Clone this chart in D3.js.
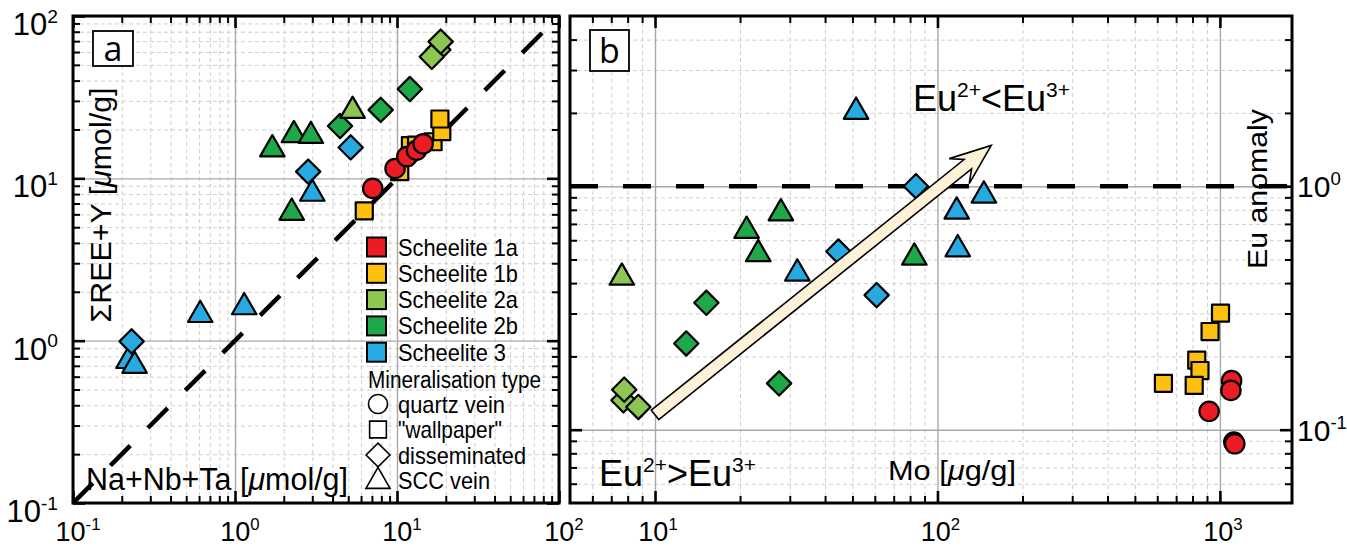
<!DOCTYPE html>
<html>
<head>
<meta charset="utf-8">
<script src="https://cdn.jsdelivr.net/npm/d3@7"></script>
<style>
  body { margin: 0; background: #fff; }
  svg { display: block; font-family: "Liberation Sans", Arial, sans-serif; }
</style>
</head>
<body>
<svg id="svg" width="1347" height="546"></svg>
<script>
// legend groups
var groups = ["1a", "1b", "2a", "2b", "3"];
var groupNames = ["Scheelite 1a", "Scheelite 1b", "Scheelite 2a", "Scheelite 2b", "Scheelite 3"];
var groupColors = ["#ed1c24", "#fdc00f", "#8dc751", "#1fa84a", "#27aae1"];
var mineralTypes = ["qv", "wp", "ds", "scc"];
var mineralNames = ["quartz vein", "\"wallpaper\"", "disseminated", "SCC vein"];

// panel a : Na+Nb+Ta vs REE+Y (umol/g)
var aGroup = ["3","3","3","3","3","3","3","3",
              "2b","2b","2b","2b","2b","2b","2b",
              "2a","2a","2a","2a",
              "1b","1b","1b","1b","1b","1b","1b",
              "1a","1a","1a","1a","1a"];
var aType  = ["scc","scc","ds","scc","scc","ds","scc","ds",
              "scc","scc","scc","ds","ds","ds","scc",
              "scc","ds","ds","ds",
              "wp","wp","wp","wp","wp","wp","wp",
              "qv","qv","qv","qv","qv"];
var aNaNbTa = [0.22, 0.24, 0.23, 0.61, 1.14, 2.83, 3.0, 5.18,
               1.70, 2.31, 2.94, 4.45, 7.93, 12.0, 2.24,
               5.32, 18.0, 16.4, 18.6,
               6.28, 10.4, 12.1, 13.2, 16.7, 18.9, 18.4,
               7.08, 9.73, 11.5, 13.2, 14.5];
var aREEY = [0.76, 0.71, 0.99, 1.46, 1.63, 11.0, 8.15, 15.5,
             15.3, 18.7, 18.5, 21.0, 26.4, 35.5, 6.22,
             26.4, 62, 56.1, 69.5,
             6.31, 11.0, 15.9, 16.0, 16.8, 19.4, 23.2,
             8.67, 11.5, 13.6, 14.9, 16.3];

// panel b : Mo (ug/g) vs Eu anomaly
var bGroup = ["2a","2a","2a","2a",
              "2b","2b","2b","2b","2b","2b","2b",
              "3","3","3","3","3","3","3","3",
              "1b","1b","1b","1b","1b","1b",
              "1a","1a","1a","1a","1a"];
var bType = ["scc","ds","ds","ds",
             "ds","ds","ds","scc","scc","scc","scc",
             "scc","ds","scc","scc","scc","ds","scc","ds",
             "wp","wp","wp","wp","wp","wp",
             "qv","qv","qv","qv","qv"];
var bMo = [7.63, 7.73, 7.78, 8.73,
           15.2, 12.9, 27.5, 21.1, 23.2, 27.9, 82.8,
           51.5, 83.9, 146, 117, 118, 44.6, 31.9, 60.9,
           1005, 923, 828, 850, 811, 631,
           1100, 1094, 916, 1120, 1129];
var bEu = [0.425, 0.132, 0.146, 0.124,
           0.332, 0.226, 0.155, 0.662, 0.531, 0.781, 0.514,
           2.04, 1.0, 0.924, 0.794, 0.556, 0.539, 0.442, 0.357,
           0.301, 0.253, 0.193, 0.175, 0.152, 0.155,
           0.159, 0.145, 0.119, 0.089, 0.0875];

var arrowFrom = [10, 0.115];
var arrowTo = [155, 1.47];

var svg = d3.select("#svg");
svg.append("rect").attr("width", 1347).attr("height", 546).attr("fill", "#fff");

var xa = d3.scaleLog().domain([0.1, 100]).range([73, 559]);
var ya = d3.scaleLog().domain([0.1, 100]).range([503, 16]);
var xb = d3.scaleLog().domain([5, 1800]).range([570, 1292]);
var yb = d3.scaleLog().domain([0.05, 5]).range([503, 16]);

function majors(d) {
    var out = [];
    for (var e = Math.ceil(Math.log10(d[0]) - 1e-9); e <= Math.floor(Math.log10(d[1]) + 1e-9); e++) out.push(Math.pow(10, e));
    return out;
}
function minors(d) {
    var out = [];
    for (var e = Math.floor(Math.log10(d[0])); e <= Math.ceil(Math.log10(d[1])); e++)
        for (var m = 2; m <= 9; m++) {
            var v = m * Math.pow(10, e);
            if (v > d[0] * 1.0001 && v < d[1] * 0.9999) out.push(v);
        }
    return out;
}

// custom marker shapes
var diamondType = { draw: function(ctx, size) {
    var r = Math.sqrt(size) * 0.72;
    ctx.moveTo(0, -r); ctx.lineTo(r, 0); ctx.lineTo(0, r); ctx.lineTo(-r, 0); ctx.closePath();
}};
var triangleType = { draw: function(ctx, size) {
    var s = Math.sqrt(size);
    ctx.moveTo(0, -s * 0.78); ctx.lineTo(s * 0.72, s * 0.47); ctx.lineTo(-s * 0.72, s * 0.47); ctx.closePath();
}};
var shapeOf = { qv: d3.symbolCircle, wp: d3.symbolSquare, ds: diamondType, scc: triangleType };
var sizeOf = { qv: 295, wp: 290, ds: 285, scc: 290 };
var colorOf = d3.scaleOrdinal().domain(groups).range(groupColors);

function panel(x, y) {
    var xd = x.domain(), yd = y.domain();
    var l = x.range()[0], r = x.range()[1], t = y.range()[1], b = y.range()[0];
    var g = svg.append("g");

    // grid
    var grid = g.append("g");
    grid.append("g").attr("transform", "translate(0," + t + ")")
        .call(d3.axisBottom(x).tickValues(minors(xd)).tickSize(b - t).tickFormat(""));
    grid.append("g").attr("transform", "translate(" + l + ",0)")
        .call(d3.axisRight(y).tickValues(minors(yd)).tickSize(r - l).tickFormat(""));
    grid.selectAll("line").attr("stroke", "#cfcfcf").attr("stroke-width", 1).attr("stroke-dasharray", "4,3");
    var gridM = g.append("g");
    gridM.append("g").attr("transform", "translate(0," + t + ")")
        .call(d3.axisBottom(x).tickValues(majors(xd)).tickSize(b - t).tickFormat(""));
    gridM.append("g").attr("transform", "translate(" + l + ",0)")
        .call(d3.axisRight(y).tickValues(majors(yd)).tickSize(r - l).tickFormat(""));
    gridM.selectAll("line").attr("stroke", "#a8a8a8").attr("stroke-width", 1.4);
    g.selectAll(".domain").remove();
    return g;
}

function frame(x, y) {
    var xd = x.domain(), yd = y.domain();
    var l = x.range()[0], r = x.range()[1], t = y.range()[1], b = y.range()[0];
    var g = svg.append("g");
    [[minors, 7, 2], [majors, 12, 2.6]].forEach(function(k) {
        var tx = k[0](xd), ty = k[0](yd);
        var sets = [
            g.append("g").attr("transform", "translate(0," + t + ")").call(d3.axisBottom(x).tickValues(tx).tickSize(k[1]).tickFormat("")),
            g.append("g").attr("transform", "translate(0," + b + ")").call(d3.axisTop(x).tickValues(tx).tickSize(k[1]).tickFormat("")),
            g.append("g").attr("transform", "translate(" + l + ",0)").call(d3.axisRight(y).tickValues(ty).tickSize(k[1]).tickFormat("")),
            g.append("g").attr("transform", "translate(" + r + ",0)").call(d3.axisLeft(y).tickValues(ty).tickSize(k[1]).tickFormat(""))
        ];
        sets.forEach(function(s) {
            s.select(".domain").remove();
            s.selectAll("line").attr("stroke", "#000").attr("stroke-width", k[2]);
        });
    });
    g.append("rect").attr("x", l).attr("y", t).attr("width", r - l).attr("height", b - t)
        .attr("fill", "none").attr("stroke", "#000").attr("stroke-width", 3);
}

function drawPoints(x, y, xs, ys, grp, typ) {
    svg.append("g").selectAll("path").data(xs).enter().append("path")
        .attr("transform", function(d, i) { return "translate(" + x(xs[i]) + "," + y(ys[i]) + ")"; })
        .attr("d", function(d, i) { return d3.symbol().type(shapeOf[typ[i]]).size(sizeOf[typ[i]])(); })
        .attr("fill", function(d, i) { return colorOf(grp[i]); })
        .attr("stroke", "#000").attr("stroke-width", 2.2).attr("stroke-linejoin", "round");
}

function pow10(x, y, e, anchor, fs) {
    var t = svg.append("text").attr("x", x).attr("y", y).attr("text-anchor", anchor)
        .attr("font-size", fs).attr("fill", "#000");
    t.append("tspan").text("10");
    t.append("tspan").attr("dy", -fs * 0.4).attr("font-size", fs * 0.62).text(e);
}

function euLabel(x, y, op) {
    var t = svg.append("text").attr("x", x).attr("y", y).attr("font-size", 36).attr("fill", "#000");
    t.append("tspan").text("Eu");
    t.append("tspan").attr("dy", -14).attr("font-size", 21).text("2+");
    t.append("tspan").attr("dy", 14).text(op + "Eu");
    t.append("tspan").attr("dy", -14).attr("font-size", 21).text("3+");
}

function labelBox(x, y, w, h, s) {
    svg.append("rect").attr("x", x).attr("y", y).attr("width", w).attr("height", h)
        .attr("fill", "#fff").attr("stroke", "#000").attr("stroke-width", 1.8);
    svg.append("text").attr("x", x + w / 2).attr("y", y + h / 2 + 12).attr("text-anchor", "middle")
        .attr("font-family", "'Open Sans', sans-serif").attr("font-size", 34).text(s);
}

// ---------- panel a ----------
panel(xa, ya);
svg.append("line")
    .attr("x1", xa(0.1)).attr("y1", ya(0.1)).attr("x2", xa(100)).attr("y2", ya(100))
    .attr("stroke", "#000").attr("stroke-width", 4.5).attr("stroke-dasharray", "28,25");

// legend (drawn under points, over grid)
var groupTextLen = [120, 120, 120, 120, 108];
var mineralTextLen = [107, 104, 128, 92];
var leg = svg.append("g");
groups.forEach(function(gname, i) {
    var cy = 247 + i * 26.3;
    leg.append("rect").attr("x", 367).attr("y", cy - 9.5).attr("width", 19).attr("height", 19)
        .attr("fill", groupColors[i]).attr("stroke", "#000").attr("stroke-width", 2);
    leg.append("text").attr("x", 398).attr("y", cy + 8.5).attr("font-size", 24)
        .attr("textLength", groupTextLen[i]).attr("lengthAdjust", "spacingAndGlyphs").text(groupNames[i]);
});
leg.append("text").attr("x", 368).attr("y", 388).attr("font-size", 23)
    .attr("textLength", 173).attr("lengthAdjust", "spacingAndGlyphs").text("Mineralisation type");
mineralTypes.forEach(function(m, i) {
    var cy = 404 + i * 25.5;
    leg.append("path").attr("transform", "translate(378," + cy + ")")
        .attr("d", d3.symbol().type(shapeOf[m]).size(sizeOf[m] - 10)())
        .attr("fill", "#fff").attr("stroke", "#000").attr("stroke-width", 1.6);
    leg.append("text").attr("x", 398).attr("y", cy + 8.5).attr("font-size", 24)
        .attr("textLength", mineralTextLen[i]).attr("lengthAdjust", "spacingAndGlyphs").text(mineralNames[i]);
});

drawPoints(xa, ya, aNaNbTa, aREEY, aGroup, aType);
frame(xa, ya);

svg.append("text").attr("transform", "translate(111,205) rotate(-90)").attr("text-anchor", "middle")
    .attr("font-size", 29).attr("textLength", 235).attr("lengthAdjust", "spacingAndGlyphs")
    .html("&#931;REE+Y [<tspan font-style='italic'>&#956;</tspan>mol/g]");
svg.append("text").attr("x", 86).attr("y", 490).attr("font-size", 31)
    .attr("textLength", 262).attr("lengthAdjust", "spacingAndGlyphs")
    .html("Na+Nb+Ta [<tspan font-style='italic'>&#956;</tspan>mol/g]");

majors(ya.domain()).forEach(function(v) {
    pow10(58, ya(v) + 19, String(Math.round(Math.log10(v))), "end", 31);
});
majors(xa.domain()).forEach(function(v) {
    pow10(xa(v) + 5, 541, String(Math.round(Math.log10(v))), "middle", 27);
});
labelBox(93, 31, 40, 35, "a");

// ---------- panel b ----------
panel(xb, yb);
svg.append("line")
    .attr("x1", xb(5)).attr("y1", yb(1)).attr("x2", xb(1800)).attr("y2", yb(1))
    .attr("stroke", "#000").attr("stroke-width", 4.5).attr("stroke-dasharray", "28,25");

drawPoints(xb, yb, bMo, bEu, bGroup, bType);

// trend arrow
(function() {
    var sx = xb(arrowFrom[0]), sy = yb(arrowFrom[1]);
    var tx = xb(arrowTo[0]), ty = yb(arrowTo[1]);
    var len = Math.hypot(tx - sx, ty - sy);
    var dx = (tx - sx) / len, dy = (ty - sy) / len;
    var nx = -dy, ny = dx;
    var w = 6, W = 16, L = 41, notch = 11;
    function p(a, b) { return [tx - dx * a + nx * b, ty - dy * a + ny * b]; }
    var pts = [
        [sx + nx * w, sy + ny * w],
        p(L - notch, w), p(L, W), [tx, ty], p(L, -W), p(L - notch, -w),
        [sx - nx * w, sy - ny * w]
    ];
    svg.append("path").attr("d", d3.line()(pts) + "Z")
        .attr("fill", "#fdf1d8").attr("stroke", "#000").attr("stroke-width", 1.6).attr("stroke-linejoin", "miter");
})();

frame(xb, yb);

majors(xb.domain()).forEach(function(v) {
    pow10(xb(v) + 3, 541, String(Math.round(Math.log10(v))), "middle", 27);
});
majors(yb.domain()).forEach(function(v) {
    pow10(1297, yb(v) + 11, String(Math.round(Math.log10(v))), "start", 30);
});

svg.append("text").attr("transform", "translate(1267,189) rotate(-90)").attr("text-anchor", "middle")
    .attr("font-size", 28).attr("textLength", 160).attr("lengthAdjust", "spacingAndGlyphs").text("Eu anomaly");
svg.append("text").attr("x", 888).attr("y", 480).attr("font-size", 28)
    .attr("textLength", 128).attr("lengthAdjust", "spacingAndGlyphs")
    .html("Mo [<tspan font-style='italic'>&#956;</tspan>g/g]");
euLabel(913, 111, "<");
euLabel(599, 486, ">");
labelBox(590, 30, 39, 41, "b");
</script>
</body>
</html>
